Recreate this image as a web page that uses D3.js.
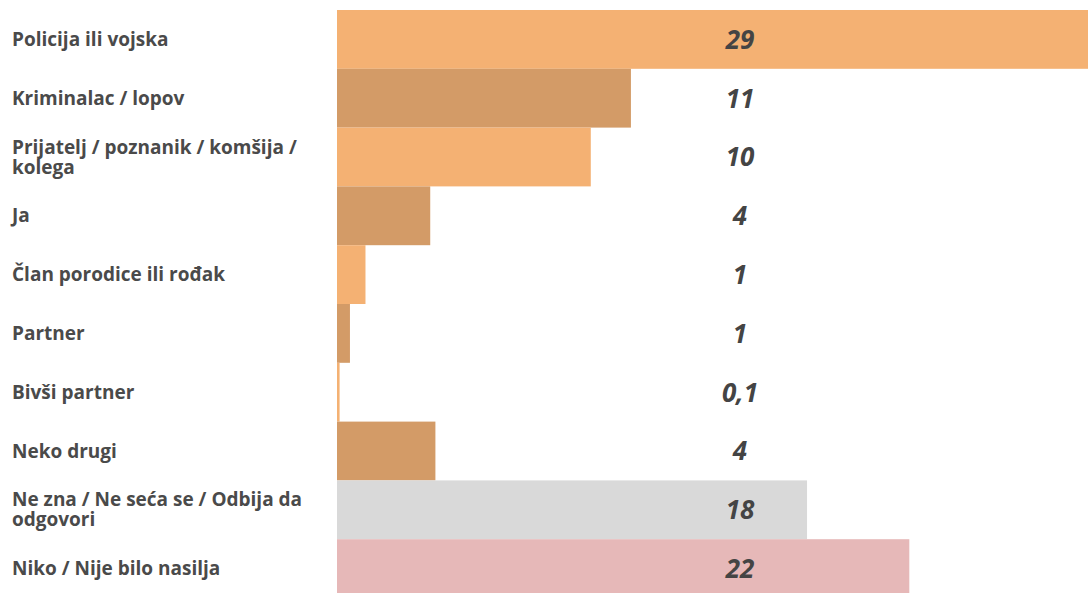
<!DOCTYPE html>
<html>
<head>
<meta charset="utf-8">
<script src="https://cdn.jsdelivr.net/npm/d3@7"></script>
<style>
  body { margin: 0; background: #fff; }
  svg { display: block; font-family: "Open Sans", "Noto Sans", sans-serif; }
</style>
</head>
<body>
<svg id="chart" width="1088" height="593"></svg>
<script>
const CATEGORIES = [
    ["Policija ili vojska"],
    ["Kriminalac / lopov"],
    ["Prijatelj / poznanik / komšija /", "kolega"],
    ["Ja"],
    ["Član porodice ili rođak"],
    ["Partner"],
    ["Bivši partner"],
    ["Neko drugi"],
    ["Ne zna / Ne seća se / Odbija da", "odgovori"],
    ["Niko / Nije bilo nasilja"]
];
const VALUES = [29, 11.35, 9.8, 3.6, 1.1, 0.5, 0.1, 3.8, 18.15, 22.1];
const LABELS = ["29", "11", "10", "4", "1", "1", "0,1", "4", "18", "22"];
const COLORS = ["#f4b173", "#d39b67", "#f4b173", "#d39b67", "#f4b173",
                "#d39b67", "#f4b173", "#d39b67", "#d9d9d9", "#e6b8b8"];

const WIDTH = 1088;
const svg = d3.select("#chart");

const x = d3.scaleLinear()
    .domain([0, 29])
    .range([337, WIDTH]);

const y = d3.scaleBand()
    .domain(d3.range(CATEGORIES.length))
    .range([10, 598])
    .padding(0);

svg.selectAll(".bar")
    .data(VALUES)
    .enter()
    .append("rect")
    .attr("class", "bar")
    .attr("x", x(0))
    .attr("y", (d, i) => y(i))
    .attr("width", d => x(d) - x(0))
    .attr("height", y.bandwidth())
    .attr("fill", (d, i) => COLORS[i]);

// category names on the left, one text per line
const LINE = 20;
const catLines = CATEGORIES.flatMap((lines, i) =>
    lines.map((t, k) => ({ t, i, off: (k - (lines.length - 1) / 2) * LINE })));

svg.selectAll(".cat")
    .data(catLines)
    .enter()
    .append("text")
    .attr("class", "cat")
    .attr("x", 12)
    .attr("y", d => y(d.i) + y.bandwidth() / 2 + d.off)
    .attr("dy", "0.35em")
    .attr("fill", "#4a4a4a")
    .attr("font-size", "19px")
    .attr("font-weight", "bold")
    .text(d => d.t);

// value labels
svg.selectAll(".val")
    .data(LABELS)
    .enter()
    .append("text")
    .attr("class", "val")
    .attr("x", 740)
    .attr("y", (d, i) => y(i) + y.bandwidth() / 2)
    .attr("dy", "0.36em")
    .attr("text-anchor", "middle")
    .attr("fill", "#444")
    .attr("font-size", "26px")
    .attr("font-weight", "bold")
    .attr("font-style", "italic")
    .text(d => d);
</script>
</body>
</html>
